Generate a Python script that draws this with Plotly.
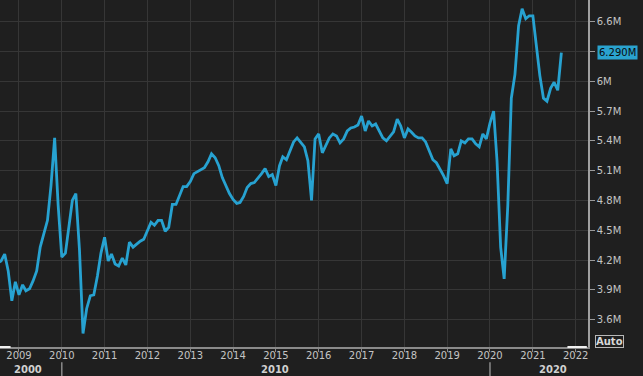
import pandas as pd
import plotly.graph_objects as go

# Monthly existing home sales (millions, SAAR), Jul 2008 .. Sep 2021
start_month = "2008-07-01"
end_month = "2021-09-01"
sales_2008 = [4.17, 4.19, 4.26, 4.09, 3.79, 3.98]
sales_2009 = [3.85, 3.95, 3.89, 3.91, 3.99, 4.09, 4.33, 4.48, 4.60, 4.95, 5.43, 4.75]
sales_2010 = [4.23, 4.27, 4.55, 4.80, 4.87, 4.30, 3.46, 3.71, 3.84, 3.85, 4.04, 4.27]
sales_2011 = [4.43, 4.19, 4.26, 4.16, 4.14, 4.22, 4.15, 4.38, 4.33, 4.36, 4.39, 4.41]
sales_2012 = [4.50, 4.58, 4.55, 4.60, 4.60, 4.49, 4.53, 4.76, 4.76, 4.85, 4.94, 4.94]
sales_2013 = [4.99, 5.07, 5.09, 5.11, 5.13, 5.19, 5.27, 5.23, 5.15, 5.03, 4.95, 4.87]
sales_2014 = [4.81, 4.77, 4.78, 4.84, 4.93, 4.97, 4.98, 5.02, 5.07, 5.12, 5.04, 5.06]
sales_2015 = [4.95, 5.15, 5.24, 5.21, 5.30, 5.39, 5.43, 5.39, 5.34, 5.20, 4.80, 5.42]
sales_2016 = [5.47, 5.28, 5.35, 5.43, 5.47, 5.45, 5.38, 5.42, 5.50, 5.53, 5.54, 5.56]
sales_2017 = [5.65, 5.50, 5.60, 5.55, 5.57, 5.49, 5.43, 5.40, 5.45, 5.49, 5.62, 5.55]
sales_2018 = [5.43, 5.52, 5.49, 5.45, 5.43, 5.43, 5.39, 5.29, 5.21, 5.18, 5.12, 5.05]
sales_2019 = [4.97, 5.32, 5.25, 5.27, 5.40, 5.38, 5.42, 5.42, 5.37, 5.34, 5.47, 5.42]
sales_2020 = [5.58, 5.70, 5.20, 4.33, 4.01, 4.75, 5.83, 6.07, 6.56, 6.73, 6.63, 6.66]
sales_2021 = [6.66, 6.34, 6.06, 5.83, 5.80, 5.93, 5.99, 5.91, 6.29]

values = (sales_2008 + sales_2009 + sales_2010 + sales_2011 + sales_2012 + sales_2013
          + sales_2014 + sales_2015 + sales_2016 + sales_2017 + sales_2018 + sales_2019
          + sales_2020 + sales_2021)
dates = pd.date_range(start_month, end_month, freq="MS")

y_tickvals = [3.6, 3.9, 4.2, 4.5, 4.8, 5.1, 5.4, 5.7, 6.0, 6.3, 6.6]
y_ticktext = ["3.6M", "3.9M", "4.2M", "4.5M", "4.8M", "5.1M", "5.4M", "5.7M", "6M", "", "6.6M"]
last_label = "6.290M"
decade_labels = ["2000", "2010", "2020"]
decade_label_x = [0.047, 0.468, 0.940]
decade_breaks = ["2010-01-01", "2020-01-01"]

BG = "#1f1f1f"
GRID = "#363636"
LINE = "#27a2d1"
TXT = "#c4c4c4"
FONT = "DejaVu Sans"

fig = go.Figure()
fig.add_trace(go.Scatter(x=dates, y=values, mode="lines",
                         line=dict(color=LINE, width=2.8), hoverinfo="skip"))

fig.update_layout(
    width=643, height=376,
    margin=dict(l=0, r=55, t=0, b=29),
    paper_bgcolor=BG, plot_bgcolor=BG,
    showlegend=False,
    font=dict(family=FONT, size=10, color=TXT),
    xaxis=dict(
        type="date",
        range=["2008-07-23", "2022-04-16"],
        tick0="2009-01-01", dtick="M12", tickformat="%Y",
        showgrid=True, gridcolor=GRID, gridwidth=1,
        ticks="outside", ticklen=3, tickcolor="#8a8a8a",
        ticklabelstandoff=-5,
        showline=True, linecolor="#8a8a8a", linewidth=1.5,
        tickfont=dict(family=FONT, size=10, color=TXT),
        zeroline=False, fixedrange=True,
    ),
    yaxis=dict(
        side="right",
        range=[3.324, 6.819],
        tickvals=y_tickvals, ticktext=y_ticktext,
        showgrid=True, gridcolor=GRID, gridwidth=1,
        ticks="outside", ticklen=5, tickcolor="#9a9a9a",
        showline=True, linecolor="#a0a0a0", linewidth=1.5,
        tickfont=dict(family=FONT, size=10, color=TXT),
        zeroline=False, fixedrange=True,
    ),
)

# last value tag
fig.add_annotation(x=1, xref="paper", xanchor="left", xshift=9,
                   y=values[-1], yref="y", yanchor="middle",
                   text=last_label, showarrow=False, align="left",
                   bgcolor="#2aa3cf", borderpad=1,
                   font=dict(family=FONT, size=10, color="#0b0b0b"))

# "Auto" button
fig.add_annotation(x=1, xref="paper", xanchor="left", xshift=7,
                   y=0.016, yref="paper", yanchor="middle",
                   text="<b>Auto</b>", showarrow=False,
                   bordercolor="#b8b8b8", borderwidth=1, borderpad=0,
                   font=dict(family=FONT, size=10, color="#d8d8d8"))

# decade labels
for lab, xp in zip(decade_labels, decade_label_x):
    fig.add_annotation(x=xp, xref="paper", xanchor="center",
                       y=-0.066, yref="paper", yanchor="middle",
                       text="<b>" + lab + "</b>", showarrow=False,
                       font=dict(family=FONT, size=10, color="#d0d0d0"))
for d in decade_breaks:
    fig.add_shape(type="line", xref="x", yref="paper", x0=d, x1=d,
                  y0=-0.044, y1=-0.09, line=dict(color="#8a8a8a", width=1.5))

# scroll indicator end marks on the bottom axis
fig.add_shape(type="line", xref="paper", yref="paper", x0=0, x1=0.018, y0=0, y1=0,
              line=dict(color="#f0f0f0", width=2))
fig.add_shape(type="line", xref="paper", yref="paper", x0=0.965, x1=0.998, y0=0, y1=0,
              line=dict(color="#f0f0f0", width=2))

fig.write_html("out.html", config={"displayModeBar": False},
               post_script="document.body.style.margin='0';document.body.style.background='#1f1f1f';")
